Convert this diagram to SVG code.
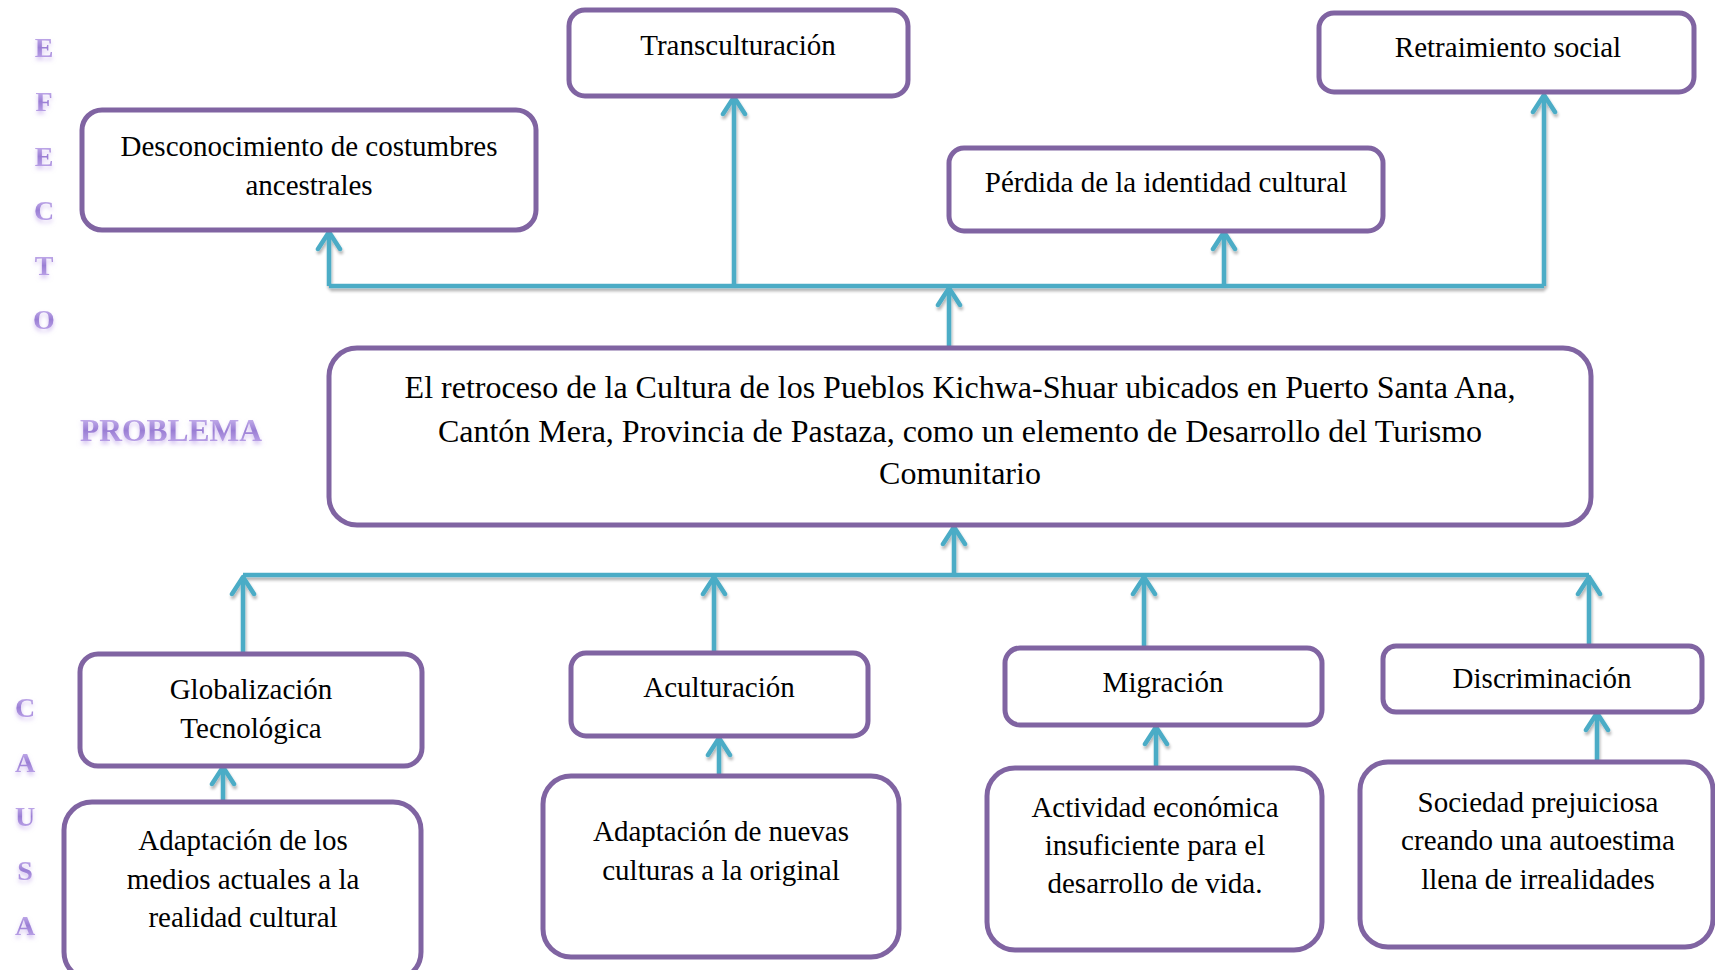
<svg xmlns="http://www.w3.org/2000/svg" width="1715" height="970" viewBox="0 0 1715 970">
  <defs>
    <style>
      .box { fill: #ffffff; stroke: #8064A2; stroke-width: 5; }
      .t { font-family: "Liberation Serif", "Times New Roman", serif; font-size: 29px; fill: #000000; text-anchor: middle; }
      .tp { font-family: "Liberation Serif", "Times New Roman", serif; font-size: 32px; fill: #000000; text-anchor: middle; }
      .side { font-family: "Liberation Serif", "Times New Roman", serif; font-weight: bold; font-size: 28px; fill: url(#wa); text-anchor: middle; filter: url(#glow); }
      .prob { font-family: "Liberation Serif", "Times New Roman", serif; font-weight: bold; font-size: 31.5px; fill: url(#wa); filter: url(#glow); }
      .conn { fill: none; stroke: #4BACC6; stroke-width: 4.5; stroke-linejoin: round; }
    </style>
    <linearGradient id="wa" x1="0" y1="0" x2="0" y2="1">
      <stop offset="0" stop-color="#d8c6f6"/>
      <stop offset="0.5" stop-color="#9a7ed4"/>
      <stop offset="1" stop-color="#c9b2f0"/>
    </linearGradient>
    <filter id="glow" x="-30%" y="-30%" width="160%" height="180%">
      <feGaussianBlur in="SourceAlpha" stdDeviation="2" result="b"/>
      <feOffset in="b" dx="0" dy="3" result="o"/>
      <feFlood flood-color="#b99be8" flood-opacity="0.6"/>
      <feComposite in2="o" operator="in" result="s"/>
      <feMerge><feMergeNode in="s"/><feMergeNode in="SourceGraphic"/></feMerge>
    </filter>
    <filter id="sh" x="-5%" y="-5%" width="110%" height="110%">
      <feGaussianBlur in="SourceAlpha" stdDeviation="1.5" result="b"/>
      <feOffset in="b" dx="1" dy="3" result="o"/>
      <feComponentTransfer in="o" result="s"><feFuncA type="linear" slope="0.3"/></feComponentTransfer>
      <feMerge><feMergeNode in="s"/><feMergeNode in="SourceGraphic"/></feMerge>
    </filter>
    <marker id="arr" viewBox="-20 -14 24 28" markerWidth="24" markerHeight="28" refX="0" refY="0" orient="auto" markerUnits="userSpaceOnUse">
      <path d="M-17,-11 L0,0 L-17,11" fill="none" stroke="#4BACC6" stroke-width="4.5" stroke-linecap="round" stroke-linejoin="round"/>
    </marker>
  </defs>
  <rect width="1715" height="970" fill="#ffffff"/>

  <g id="side-labels">
    <text class="side" x="44" y="57">E</text>
    <text class="side" x="44" y="111">F</text>
    <text class="side" x="44" y="166">E</text>
    <text class="side" x="44" y="220">C</text>
    <text class="side" x="44" y="275">T</text>
    <text class="side" x="44" y="329">O</text>
    <text class="prob" x="80" y="441">PROBLEMA</text>
    <text class="side" x="25" y="717">C</text>
    <text class="side" x="25" y="772">A</text>
    <text class="side" x="25" y="826">U</text>
    <text class="side" x="25" y="880">S</text>
    <text class="side" x="25" y="935">A</text>
  </g>

  <g id="connectors" filter="url(#sh)">
    <path class="conn" d="M329,286 H1544"/>
    <path class="conn" d="M329,286 V232" marker-end="url(#arr)"/>
    <path class="conn" d="M734,286 V97" marker-end="url(#arr)"/>
    <path class="conn" d="M1224,286 V232" marker-end="url(#arr)"/>
    <path class="conn" d="M1544,286 V95" marker-end="url(#arr)"/>
    <path class="conn" d="M949,348 V288" marker-end="url(#arr)"/>
    <path class="conn" d="M243,575 H1589"/>
    <path class="conn" d="M954,575 V527" marker-end="url(#arr)"/>
    <path class="conn" d="M243,653 V577" marker-end="url(#arr)"/>
    <path class="conn" d="M714,653 V577" marker-end="url(#arr)"/>
    <path class="conn" d="M1144,648 V577" marker-end="url(#arr)"/>
    <path class="conn" d="M1589,646 V577" marker-end="url(#arr)"/>
    <path class="conn" d="M223,802 V767" marker-end="url(#arr)"/>
    <path class="conn" d="M719,776 V738" marker-end="url(#arr)"/>
    <path class="conn" d="M1156,768 V727" marker-end="url(#arr)"/>
    <path class="conn" d="M1597,762 V713" marker-end="url(#arr)"/>
  </g>

  <g id="efecto-desconocimiento">
    <rect class="box" x="82" y="110" width="454" height="120" rx="20"/>
    <text class="t" x="309" y="156">Desconocimiento de costumbres</text>
    <text class="t" x="309" y="195">ancestrales</text>
  </g>
  <g id="efecto-transculturacion">
    <rect class="box" x="569" y="10" width="339" height="86" rx="16"/>
    <text class="t" x="738" y="55">Transculturación</text>
  </g>
  <g id="efecto-retraimiento">
    <rect class="box" x="1319" y="13" width="375" height="79" rx="15"/>
    <text class="t" x="1508" y="57">Retraimiento social</text>
  </g>
  <g id="efecto-perdida">
    <rect class="box" x="949" y="148" width="434" height="83" rx="15"/>
    <text class="t" x="1166" y="192">Pérdida de la identidad cultural</text>
  </g>
  <g id="problema">
    <rect class="box" x="329" y="348" width="1262" height="177" rx="28"/>
    <text class="tp" x="960" y="398">El retroceso de la Cultura de los Pueblos Kichwa-Shuar ubicados en Puerto Santa Ana,</text>
    <text class="tp" x="960" y="442">Cantón Mera, Provincia de Pastaza, como un elemento de Desarrollo del Turismo</text>
    <text class="tp" x="960" y="484">Comunitario</text>
  </g>
  <g id="causa-globalizacion">
    <rect class="box" x="80" y="654" width="342" height="112" rx="18"/>
    <text class="t" x="251" y="699">Globalización</text>
    <text class="t" x="251" y="738">Tecnológica</text>
  </g>
  <g id="causa-aculturacion">
    <rect class="box" x="571" y="653" width="297" height="83" rx="15"/>
    <text class="t" x="719" y="697">Aculturación</text>
  </g>
  <g id="causa-migracion">
    <rect class="box" x="1005" y="648" width="317" height="77" rx="15"/>
    <text class="t" x="1163" y="692">Migración</text>
  </g>
  <g id="causa-discriminacion">
    <rect class="box" x="1383" y="646" width="319" height="66" rx="13"/>
    <text class="t" x="1542" y="688">Discriminación</text>
  </g>
  <g id="subcausa-adaptacion-medios">
    <rect class="box" x="64" y="802" width="357" height="178" rx="28"/>
    <text class="t" x="243" y="850">Adaptación de los</text>
    <text class="t" x="243" y="889">medios actuales a la</text>
    <text class="t" x="243" y="927">realidad cultural</text>
  </g>
  <g id="subcausa-adaptacion-culturas">
    <rect class="box" x="543" y="776" width="356" height="181" rx="28"/>
    <text class="t" x="721" y="841">Adaptación de nuevas</text>
    <text class="t" x="721" y="880">culturas a la original</text>
  </g>
  <g id="subcausa-actividad">
    <rect class="box" x="987" y="768" width="335" height="182" rx="28"/>
    <text class="t" x="1155" y="817">Actividad económica</text>
    <text class="t" x="1155" y="855">insuficiente para el</text>
    <text class="t" x="1155" y="893">desarrollo de vida.</text>
  </g>
  <g id="subcausa-sociedad">
    <rect class="box" x="1360" y="762" width="353" height="185" rx="28"/>
    <text class="t" x="1538" y="812">Sociedad prejuiciosa</text>
    <text class="t" x="1538" y="850">creando una autoestima</text>
    <text class="t" x="1538" y="889">llena de irrealidades</text>
  </g>
</svg>
